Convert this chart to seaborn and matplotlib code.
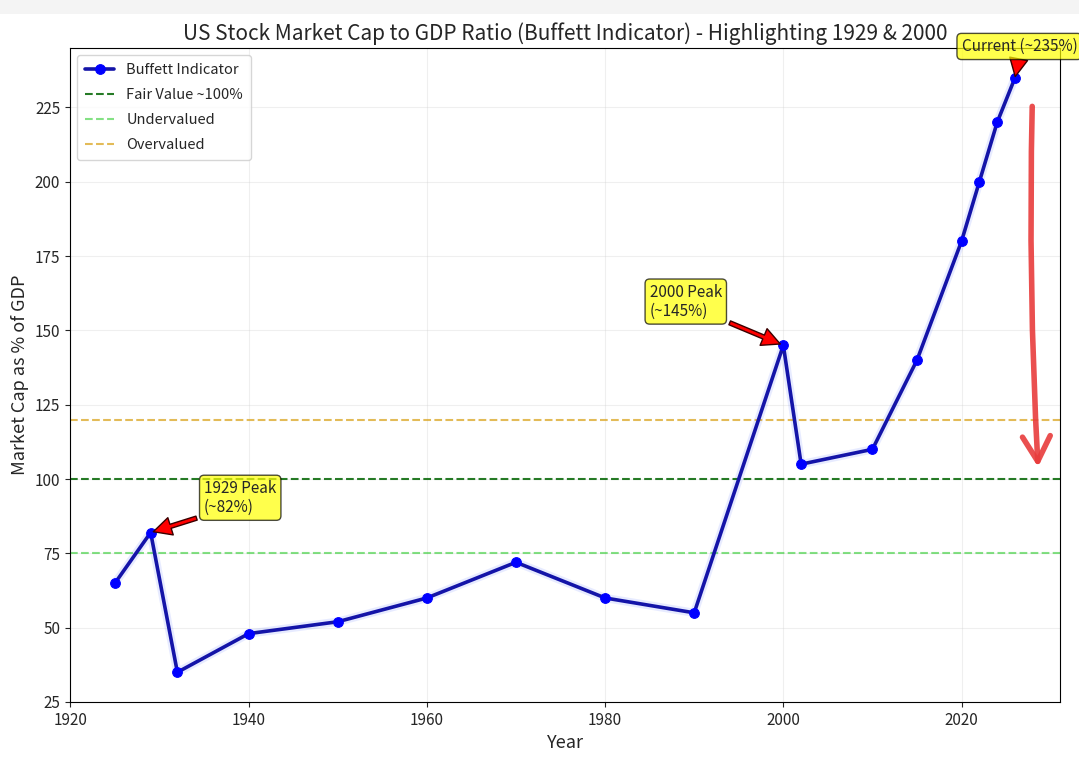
import matplotlib
matplotlib.use("Agg")
import matplotlib.pyplot as plt
import seaborn as sns
import pandas as pd
from matplotlib.patches import FancyArrowPatch, Rectangle

years = [1925, 1929, 1932, 1940, 1950, 1960, 1970, 1980, 1990, 2000, 2002, 2010, 2015, 2020, 2022, 2024, 2026]
ratio = [65, 82, 35, 48, 52, 60, 72, 60, 55, 145, 105, 110, 140, 180, 200, 220, 235]

ref_levels = [100, 75, 120]
ref_labels = ["Fair Value ~100%", "Undervalued", "Overvalued"]

ann_texts = ["1929 Peak\n(~82%)", "2000 Peak\n(~145%)", "Current (~235%)"]
ann_points = [(1929, 82), (2000, 145), (2026, 235)]
ann_text_pos = [(1935, 89), (1985, 155), (2020, 244)]

title = "US Stock Market Cap to GDP Ratio (Buffett Indicator) - Highlighting 1929 & 2000"

sns.set_style("ticks")
plt.rcParams["font.family"] = ["Noto Sans CJK SC", "DejaVu Sans"]

df = pd.DataFrame({"Year": years, "Ratio": ratio})

fig = plt.figure(figsize=(10.79, 7.63), dpi=100)
fig.patches.append(Rectangle((0, 0.982), 1, 0.018, transform=fig.transFigure,
                             facecolor="#f4f4f4", edgecolor="none", zorder=0))
ax = fig.add_axes([70 / 1079, 1 - 702 / 763, 990 / 1079, 654 / 763])

# faint halo behind line
ax.plot(df["Year"], df["Ratio"], color="#4060ff", alpha=0.12, linewidth=6, zorder=2)
sns.lineplot(data=df, x="Year", y="Ratio", ax=ax, color="#1414a8", linewidth=2.6,
             marker="o", markersize=7, markerfacecolor="blue", markeredgecolor="blue",
             label="Buffett Indicator", zorder=3)

ax.axhline(ref_levels[0], color="darkgreen", linestyle="--", linewidth=1.5, alpha=0.85, label=ref_labels[0])
ax.axhline(ref_levels[1], color="limegreen", linestyle="--", linewidth=1.5, alpha=0.6, label=ref_labels[1])
ax.axhline(ref_levels[2], color="goldenrod", linestyle="--", linewidth=1.5, alpha=0.75, label=ref_labels[2])

for txt, pt, tp in zip(ann_texts, ann_points, ann_text_pos):
    ax.annotate(txt, xy=pt, xytext=tp, fontsize=11, linespacing=1.15,
                arrowprops=dict(facecolor="red", edgecolor="#3a0000", shrink=0.05, width=3, headwidth=13, headlength=13),
                bbox=dict(boxstyle="round,pad=0.3", fc="yellow", ec="black", alpha=0.7),
                annotation_clip=False, zorder=5)

# hand-drawn style red arrow on the right
arr = FancyArrowPatch((0.972, 0.915), (0.978, 0.355), transform=ax.transAxes,
                      connectionstyle="arc3,rad=0.02", arrowstyle="->,head_length=0.9,head_width=0.5",
                      color="#e83c3c", linewidth=4, alpha=0.9, mutation_scale=20, clip_on=False, zorder=6)
ax.add_patch(arr)

ax.set_title(title, fontsize=15, pad=6)
ax.set_xlabel("Year", fontsize=13)
ax.set_ylabel("Market Cap as % of GDP", fontsize=13)
ax.set_xticks([1920, 1940, 1960, 1980, 2000, 2020])
ax.set_yticks([25, 50, 75, 100, 125, 150, 175, 200, 225])
ax.tick_params(labelsize=11)
ax.grid(True, alpha=0.3)
ax.margins(x=0.05, y=0.05)
for s in ax.spines.values():
    s.set_visible(True)
    s.set_color("black")
ax.legend(loc="upper left", fontsize=10.5, frameon=True, labelspacing=0.75, borderpad=0.55)

fig.savefig("out.png", dpi=100)
